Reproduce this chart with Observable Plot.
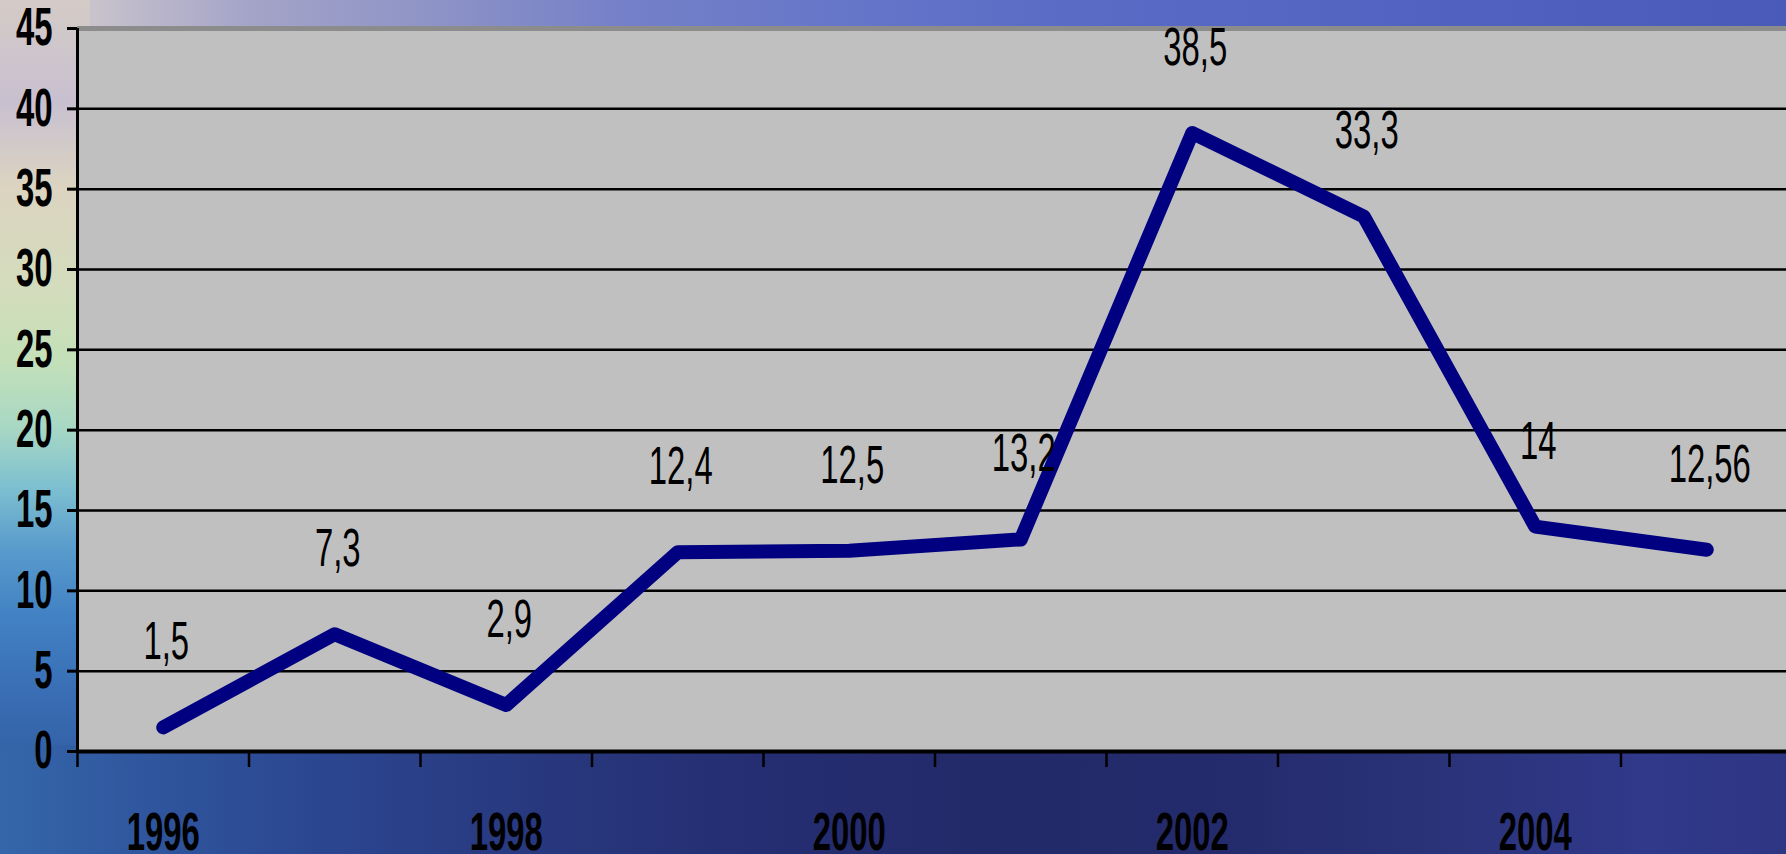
<!DOCTYPE html>
<html>
<head>
<meta charset="utf-8">
<script src="https://cdn.jsdelivr.net/npm/d3@7"></script>
<script src="https://cdn.jsdelivr.net/npm/@observablehq/plot@0.6"></script>
<style>
  html, body { margin: 0; padding: 0; width: 1786px; height: 854px; overflow: hidden; }
  body { position: relative; background: #2a3578; }
  .bg { position: absolute; }
  #sky { left: 0; top: 0; width: 1786px; height: 40px;
    background: linear-gradient(to right, #d9d3c3 0%, #c9c3cc 5%, #a4a4c8 14%, #8c92c6 25%, #7480c8 35%, #6575c8 48%, #5a6bc6 60%, #5262c0 80%, #4a5ab8 100%); }
  #side { left: 0; top: 0; width: 90px; height: 854px;
    background: linear-gradient(to bottom, #d4cbc6 0%, #c8c0d0 12%, #dcd4c0 22%, #d3dcbc 34%, #c4e0b8 42%, #a8d8c4 50%, #7ec0d0 57%, #5a9ccc 64%, #4282c4 72%, #3a70b6 80%, #3462a8 88%, #2e5aa0 100%); }
  #sea { left: 0; top: 745px; width: 1786px; height: 109px;
    background: linear-gradient(to right, #3566aa 0%, #2f569e 8%, #2b4690 18%, #28387e 30%, #252e72 42%, #232a6a 55%, #242b6c 68%, #2a3278 80%, #30398a 92%, #2e3684 100%); }
  #chart { position: absolute; left: 0; top: 0; }
</style>
</head>
<body>
<div class="bg" id="sky"></div>
<div class="bg" id="side"></div>
<div class="bg" id="sea"></div>
<div id="chart"></div>
<script>
// Yearly values
const years = [1996, 1997, 1998, 1999, 2000, 2001, 2002, 2003, 2004, 2005];
const values = [1.5, 7.3, 2.9, 12.4, 12.5, 13.2, 38.5, 33.3, 14, 12.56];
// Labelled years on the category axis
const yearLabels = [1996, 1998, 2000, 2002, 2004];
// Value axis ticks
const yTicks = [0, 5, 10, 15, 20, 25, 30, 35, 40, 45];

const data = years.map((year, i) => ({year, value: values[i]}));
const fmt = (v) => String(v).replace(".", ",");
// category boundaries (tick marks sit between years)
const boundaries = d3.range(years[0] - 0.5, years[years.length - 1] + 1, 1);

const FONT = "'Liberation Sans', Arial, sans-serif";
const SIZE = 53;

const chart = Plot.plot({
  width: 1792,
  height: 854,
  marginTop: 28,
  marginBottom: 103,
  marginLeft: 77,
  marginRight: 0,
  style: {background: "transparent", maxWidth: "none", fontFamily: FONT, fontSize: SIZE + "px", color: "black"},
  x: {domain: [years[0] - 0.5, years[years.length - 1] + 0.5]},
  y: {domain: [0, 45]},
  marks: [
    Plot.frame({fill: "#c0c0c0", stroke: null}),
    Plot.ruleY(yTicks.filter((d) => d > 0 && d < 45), {stroke: "black", strokeWidth: 2.5}),
    Plot.ruleY([45], {stroke: "#8c8c8c", strokeWidth: 5}),
    Plot.axisY({ticks: yTicks, tickSize: 10, tickPadding: 15, strokeWidth: 3, fontWeight: "bold", fontSize: SIZE, label: null}),
    Plot.axisX({ticks: boundaries, tickSize: 16, strokeWidth: 2.5, tickFormat: () => "", label: null}),
    Plot.axisX({ticks: yearLabels, tickSize: 0, tickPadding: 61, tickFormat: (d) => String(d), fontWeight: "bold", fontSize: SIZE, label: null}),
    Plot.ruleX([years[0] - 0.5], {stroke: "black", strokeWidth: 3}),
    Plot.ruleY([0], {stroke: "black", strokeWidth: 4}),
    Plot.line(data, {x: "year", y: "value", stroke: "#000080", strokeWidth: 14, strokeLinejoin: "round", strokeLinecap: "round"}),
    Plot.text(data, {x: "year", y: "value", text: (d) => fmt(d.value), dy: -85, dx: 3, fontSize: SIZE, fontWeight: "normal", fill: "black"})
  ]
});

// narrow, tall lettering: squeeze every label horizontally around its anchor
chart.querySelectorAll("text").forEach((t) => {
  const tr = t.getAttribute("transform") || "";
  const x = +t.getAttribute("x") || 0;
  t.removeAttribute("x");
  t.setAttribute("transform", `${tr} translate(${x},0) scale(0.62,1)`);
});

document.getElementById("chart").appendChild(chart);
</script>
</body>
</html>
